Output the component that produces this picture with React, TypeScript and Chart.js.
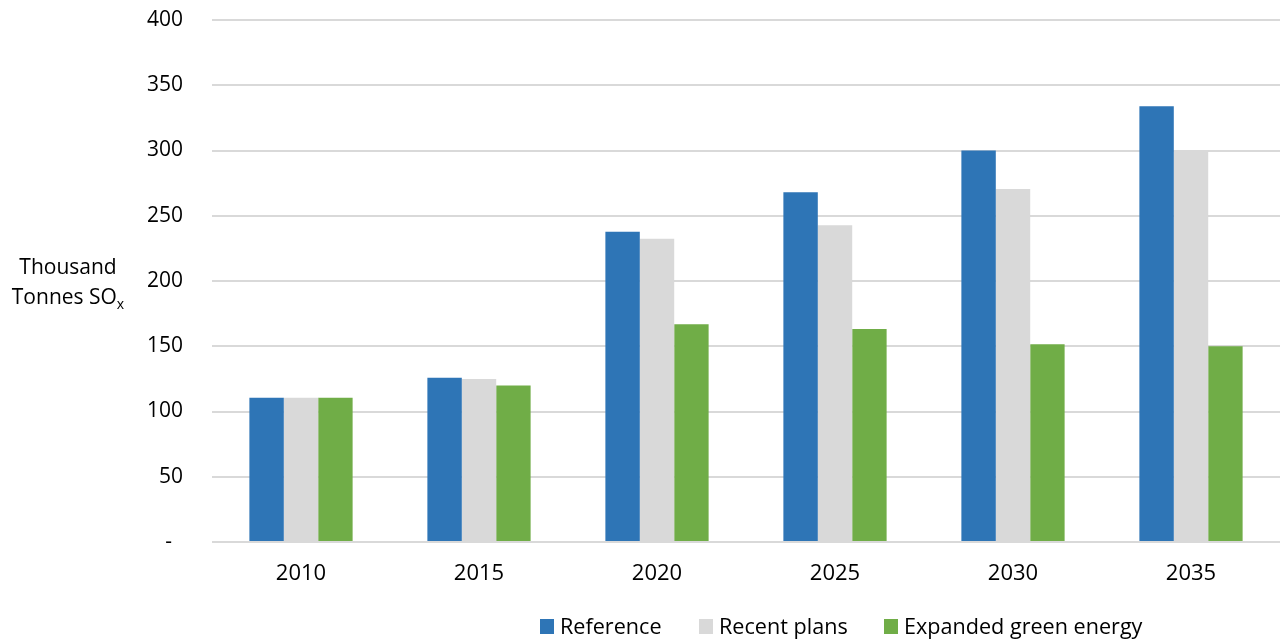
import React, { useEffect, useRef } from "react";
import { Chart, registerables } from "chart.js";

Chart.register(...registerables);

const categories = ["2010", "2015", "2020", "2025", "2030", "2035"];
const referenceValues = [110.5, 125.8, 237.8, 268, 300, 334];
const recentPlansValues = [110.5, 125, 232.4, 242.7, 270.5, 300];
const greenEnergyValues = [110.5, 120, 166.8, 163.2, 151.5, 150];
const seriesNames = ["Reference", "Recent plans", "Expanded green energy"];
const seriesColors = ["#2E75B6", "#D9D9D9", "#70AD47"];
const yTicks = [0, 50, 100, 150, 200, 250, 300, 350, 400];

const FONT = "'Open Sans', sans-serif";
const FONT_SIZE = 21;

const extrasPlugin = {
  id: "extras",
  afterDraw(chart: any) {
    const ctx = chart.ctx;
    ctx.save();
    ctx.fillStyle = "#000";
    ctx.font = `${FONT_SIZE}px ${FONT}`;
    ctx.textBaseline = "alphabetic";
    // Y axis title
    ctx.textAlign = "center";
    ctx.fillText("Thousand", 68, 274);
    const main = "Tonnes SO";
    ctx.font = `${FONT_SIZE}px ${FONT}`;
    const wMain = ctx.measureText(main).width;
    ctx.font = `${Math.round(FONT_SIZE * 0.65)}px ${FONT}`;
    const wSub = ctx.measureText("x").width;
    const start = 68 - (wMain + wSub) / 2;
    ctx.textAlign = "left";
    ctx.font = `${FONT_SIZE}px ${FONT}`;
    ctx.fillText(main, start, 304);
    ctx.font = `${Math.round(FONT_SIZE * 0.65)}px ${FONT}`;
    ctx.fillText("x", start + wMain, 309);
    // Legend
    const legendX = [540, 699, 884];
    ctx.font = `21.6px ${FONT}`;
    seriesNames.forEach((name, i) => {
      ctx.fillStyle = seriesColors[i];
      ctx.fillRect(legendX[i], 619, 14, 15);
      ctx.fillStyle = "#000";
      ctx.fillText(name, legendX[i] + 20, 634);
    });
    ctx.restore();
  },
};

export default function App() {
  const ref = useRef<HTMLCanvasElement | null>(null);
  useEffect(() => {
    if (!ref.current) return;
    const chart = new Chart(ref.current, {
      type: "bar",
      data: {
        labels: categories,
        datasets: [referenceValues, recentPlansValues, greenEnergyValues].map((d, i) => ({
          label: seriesNames[i],
          data: d,
          backgroundColor: seriesColors[i],
          borderWidth: 0,
          categoryPercentage: 0.58,
          barPercentage: 1.0,
        })),
      },
      options: {
        responsive: false,
        animation: false,
        layout: { padding: { top: 20, right: 0, bottom: 0, left: 0 } },
        plugins: { legend: { display: false }, tooltip: { enabled: false } },
        scales: {
          x: {
            grid: { display: false, drawTicks: false },
            border: { display: false },
            ticks: { color: "#000", font: { family: FONT, size: 22 }, padding: 19 },
            afterFit: (s: any) => {
              s.height = 101;
              s.paddingLeft = 0;
              s.paddingRight = 0;
            },
          },
          y: {
            min: 0,
            max: 400,
            afterBuildTicks: (s: any) => {
              s.ticks = yTicks.map((v) => ({ value: v }));
            },
            grid: { color: "#D9D9D9", lineWidth: 2, drawTicks: false },
            border: { display: false },
            ticks: {
              color: "#000",
              font: { family: FONT, size: FONT_SIZE },
              padding: 29,
              callback: (v: any) => (Number(v) === 0 ? "-  " : String(v)),
            },
            afterFit: (s: any) => {
              s.width = 212;
              s.paddingTop = 0;
              s.paddingBottom = 0;
            },
          },
        },
      },
      plugins: [extrasPlugin],
    });
    return () => chart.destroy();
  }, []);
  return (
    <div style={{ position: "absolute", left: 0, top: 0, width: 1280, height: 643, background: "#fff" }}>
      <canvas ref={ref} width={1280} height={643} />
    </div>
  );
}
